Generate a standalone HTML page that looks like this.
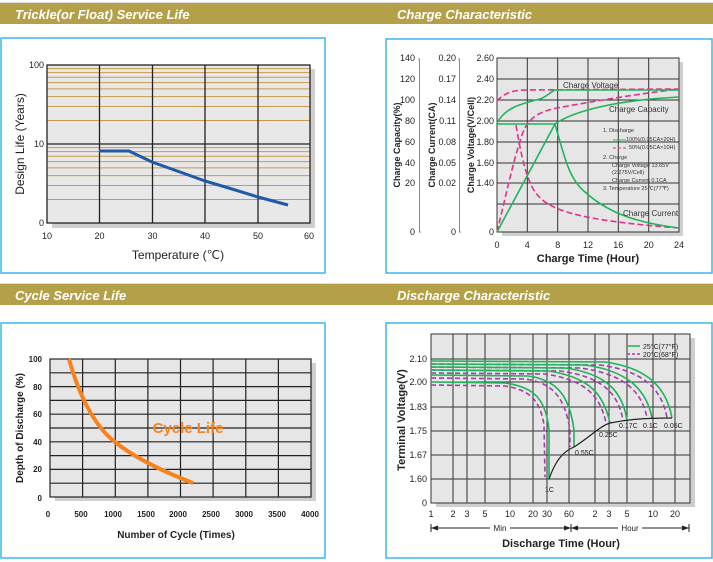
<!DOCTYPE html>
<html><head><meta charset="utf-8"><style>
html,body{margin:0;padding:0;background:#fff;}
svg{display:block;font-family:"Liberation Sans",sans-serif;}
</style></head><body>
<svg width="713" height="562" viewBox="0 0 713 562" xmlns="http://www.w3.org/2000/svg">
<rect x="0" y="2" width="713" height="1.5" fill="#ddd"/>
<rect x="0" y="3" width="713" height="21" fill="#b4a048"/>
<rect x="0" y="283" width="713" height="1.5" fill="#ddd"/>
<rect x="0" y="284" width="713" height="21" fill="#b4a048"/>
<g fill="#fff" font-weight="bold" font-style="italic" font-size="13">
<text x="15" y="19">Trickle(or Float) Service Life</text>
<text x="397" y="19">Charge Characteristic</text>
<text x="15" y="300">Cycle Service Life</text>
<text x="397" y="300">Discharge Characteristic</text>
</g>
<g fill="none" stroke="#3bb8ea" stroke-width="1.5">
<rect x="1" y="38" width="324" height="235"/>
<rect x="386" y="39" width="326" height="234"/>
<rect x="1" y="323" width="324" height="235"/>
<rect x="386" y="323" width="326" height="235"/>
</g>

<!-- Panel 1 -->
<rect x="52" y="69" width="263" height="159" fill="#cfcfcf"/>
<rect x="47" y="65" width="263" height="158" fill="#e8e8e8"/>
<g stroke="#c89a4a" stroke-width="1">
<line x1="47" x2="310" y1="68.6" y2="68.6"/><line x1="47" x2="310" y1="72.6" y2="72.6"/>
<line x1="47" x2="310" y1="77.3" y2="77.3"/><line x1="47" x2="310" y1="82.6" y2="82.6"/>
<line x1="47" x2="310" y1="88.9" y2="88.9"/><line x1="47" x2="310" y1="96.6" y2="96.6"/>
<line x1="47" x2="310" y1="106.5" y2="106.5"/><line x1="47" x2="310" y1="120.5" y2="120.5"/>
<line x1="47" x2="310" y1="147.6" y2="147.6"/><line x1="47" x2="310" y1="151.6" y2="151.6"/>
<line x1="47" x2="310" y1="156.3" y2="156.3"/><line x1="47" x2="310" y1="161.6" y2="161.6"/>
<line x1="47" x2="310" y1="167.9" y2="167.9"/><line x1="47" x2="310" y1="175.6" y2="175.6"/>
<line x1="47" x2="310" y1="185.5" y2="185.5"/><line x1="47" x2="310" y1="199.5" y2="199.5"/>
</g>
<g stroke="#222" stroke-width="1.3">
<line x1="99.5" x2="99.5" y1="65" y2="223"/><line x1="152.5" x2="152.5" y1="65" y2="223"/>
<line x1="205" x2="205" y1="65" y2="223"/><line x1="258" x2="258" y1="65" y2="223"/>
<line x1="47" x2="310" y1="144" y2="144"/>
<rect x="47" y="65" width="263" height="158" fill="none"/>
</g>
<polyline points="99,151 129,151 152,162 180,172 205,181 232,189 258,197 288,205" fill="none" stroke="#1f5aa8" stroke-width="3"/>
<g font-size="9" fill="#222" text-anchor="end">
<text x="44" y="68">100</text><text x="44" y="147">10</text><text x="44" y="226">0</text>
</g>
<g font-size="9" fill="#222" text-anchor="middle">
<text x="47" y="239">10</text><text x="99.5" y="239">20</text><text x="152.5" y="239">30</text>
<text x="205" y="239">40</text><text x="258" y="239">50</text><text x="309" y="239">60</text>
</g>
<text x="178" y="259" font-size="12" text-anchor="middle" fill="#222">Temperature (℃)</text>
<text transform="translate(24,144) rotate(-90)" font-size="12" text-anchor="middle" fill="#222">Design Life (Years)</text>

<!-- Panel 2 -->
<rect x="502" y="62" width="181" height="174" fill="#cfcfcf"/>
<rect x="497" y="58" width="182" height="174" fill="#e6e6e6"/>
<g stroke="#333" stroke-width="1">
<line x1="527.3" x2="527.3" y1="58" y2="232"/><line x1="557.7" x2="557.7" y1="58" y2="232"/>
<line x1="588" x2="588" y1="58" y2="232"/><line x1="618.3" x2="618.3" y1="58" y2="232"/>
<line x1="648.7" x2="648.7" y1="58" y2="232"/>
<line x1="497" x2="679" y1="79" y2="79"/><line x1="497" x2="679" y1="100" y2="100"/>
<line x1="497" x2="679" y1="121" y2="121"/><line x1="497" x2="679" y1="142" y2="142"/>
<line x1="497" x2="679" y1="163" y2="163"/><line x1="497" x2="679" y1="183" y2="183"/>
<line x1="497" x2="679" y1="204" y2="204"/>
<rect x="497" y="58" width="182" height="174" fill="none"/>
</g>
<g stroke="#888" stroke-width="1" fill="none">
<path d="M418,59 h1.5 V232 h1.5"/><path d="M458,59 h1.5 V232 h1.5"/>
</g>
<g font-size="9" fill="#222" text-anchor="end">
<text x="415" y="61">140</text><text x="415" y="82">120</text><text x="415" y="103">100</text>
<text x="415" y="124">80</text><text x="415" y="145">60</text><text x="415" y="166">40</text>
<text x="415" y="186">20</text><text x="415" y="235">0</text>
<text x="456" y="61">0.20</text><text x="456" y="82">0.17</text><text x="456" y="103">0.14</text>
<text x="456" y="124">0.11</text><text x="456" y="145">0.08</text><text x="456" y="166">0.05</text>
<text x="456" y="186">0.02</text><text x="456" y="235">0</text>
<text x="494" y="61">2.60</text><text x="494" y="82">2.40</text><text x="494" y="103">2.20</text>
<text x="494" y="124">2.00</text><text x="494" y="145">1.80</text><text x="494" y="166">1.60</text>
<text x="494" y="186">1.40</text><text x="494" y="235">0</text>
</g>
<g font-size="9" fill="#222" text-anchor="middle">
<text x="497" y="248">0</text><text x="527.3" y="248">4</text><text x="557.7" y="248">8</text>
<text x="588" y="248">12</text><text x="618.3" y="248">16</text><text x="648.7" y="248">20</text><text x="679" y="248">24</text>
</g>
<text x="588" y="262" font-size="11" font-weight="bold" text-anchor="middle" fill="#222">Charge Time (Hour)</text>
<g font-size="9" font-weight="bold" fill="#222" text-anchor="middle">
<text transform="translate(400,145) rotate(-90)">Charge Capacity(%)</text>
<text transform="translate(435,145) rotate(-90)">Charge Current(CA)</text>
<text transform="translate(474,145) rotate(-90)">Charge Voltage(V/Cell)</text>
</g>
<g fill="none" stroke-width="1.6">
<path d="M497,101 C505,92 515,90 527,90 L679,89" stroke="#e0328c" stroke-dasharray="6,3"/>
<path d="M497,232 C505,200 512,165 522,135 C528,118 538,112 557,108 C590,102 630,95 679,89" stroke="#e0328c" stroke-dasharray="6,3"/>
<path d="M516,125 C521,155 526,178 535,192 C548,210 575,220 679,228" stroke="#e0328c" stroke-dasharray="6,3"/>
<path d="M497,123 C505,108 520,104 540,99 C548,96 550,92 555,90 L679,90" stroke="#1fb45a"/>
<path d="M497,124 L555,124" stroke="#1fb45a"/>
<path d="M497,232 L555,124 C575,110 620,100 679,97" stroke="#1fb45a"/>
<path d="M555,124 C565,160 570,180 585,192 C605,210 630,222 679,228" stroke="#1fb45a"/>
</g>
<g font-size="8" fill="#333">
<text x="563" y="88">Charge Voltage</text>
<text x="609" y="112">Charge Capacity</text>
<text x="623" y="216">Charge Current</text>
</g>
<g font-size="5.5" fill="#333">
<text x="603" y="132">1. Discharge</text>
<line x1="613" x2="626" y1="140" y2="140" stroke="#1fb45a" stroke-width="1"/>
<text x="626" y="141">100%(0.05CA×20H)</text>
<line x1="613" x2="626" y1="148" y2="148" stroke="#e0328c" stroke-width="1" stroke-dasharray="3,2"/>
<text x="629" y="149">50%(0.05CA×10H)</text>
<text x="603" y="159">2. Charge</text>
<text x="612" y="167">Charge Voltage 13.65V</text>
<text x="612" y="174">(2.275V/Cell)</text>
<text x="612" y="182">Charge Current 0.1CA</text>
<text x="603" y="190">3. Temperature 25℃(77℉)</text>
</g>

<!-- Panel 3 -->
<rect x="55" y="363" width="261" height="138" fill="#cfcfcf"/>
<rect x="50" y="359" width="261" height="138" fill="#e6e6e6"/>
<g stroke="#222" stroke-width="1.2">
<line x1="82.6" x2="82.6" y1="359" y2="497"/><line x1="115.3" x2="115.3" y1="359" y2="497"/>
<line x1="147.9" x2="147.9" y1="359" y2="497"/><line x1="180.5" x2="180.5" y1="359" y2="497"/>
<line x1="213.1" x2="213.1" y1="359" y2="497"/><line x1="245.8" x2="245.8" y1="359" y2="497"/>
<line x1="278.4" x2="278.4" y1="359" y2="497"/>
<line x1="50" x2="311" y1="372.8" y2="372.8"/><line x1="50" x2="311" y1="386.6" y2="386.6"/>
<line x1="50" x2="311" y1="400.4" y2="400.4"/><line x1="50" x2="311" y1="414.2" y2="414.2"/>
<line x1="50" x2="311" y1="428" y2="428"/><line x1="50" x2="311" y1="441.8" y2="441.8"/>
<line x1="50" x2="311" y1="455.6" y2="455.6"/><line x1="50" x2="311" y1="469.4" y2="469.4"/>
<line x1="50" x2="311" y1="483.2" y2="483.2"/>
<rect x="50" y="359" width="261" height="138" fill="none"/>
</g>
<path d="M69,359 C78,392 93,425 115,442 C135,458 162,471 193,483" fill="none" stroke="#f7821e" stroke-width="4"/>
<text x="188" y="433" font-size="15" font-weight="bold" fill="#f7821e" text-anchor="middle">Cycle Life</text>
<g font-size="8" font-weight="bold" fill="#222" text-anchor="end">
<text x="42" y="362">100</text><text x="42" y="390">80</text><text x="42" y="417">60</text>
<text x="42" y="445">40</text><text x="42" y="472">20</text><text x="42" y="501">0</text>
</g>
<g font-size="8" font-weight="bold" fill="#222" text-anchor="middle">
<text x="48" y="517">0</text><text x="81" y="517">500</text><text x="113" y="517">1000</text>
<text x="146" y="517">1500</text><text x="178" y="517">2000</text><text x="211" y="517">2500</text>
<text x="244" y="517">3000</text><text x="277" y="517">3500</text><text x="310" y="517">4000</text>
</g>
<text x="176" y="538" font-size="10" font-weight="bold" text-anchor="middle" fill="#222">Number of Cycle (Times)</text>
<text transform="translate(23,428) rotate(-90)" font-size="10" font-weight="bold" text-anchor="middle" fill="#222">Depth of Discharge (%)</text>

<!-- Panel 4 -->
<rect x="436" y="338" width="259" height="169" fill="#cfcfcf"/>
<rect x="431" y="334" width="259" height="169" fill="#e6e6e6"/>
<g stroke="#333" stroke-width="1">
<line x1="453" x2="453" y1="334" y2="503"/><line x1="467" x2="467" y1="334" y2="503"/>
<line x1="485" x2="485" y1="334" y2="503"/><line x1="510" x2="510" y1="334" y2="503"/>
<line x1="533" x2="533" y1="334" y2="503"/><line x1="547" x2="547" y1="334" y2="503"/>
<line x1="569" x2="569" y1="334" y2="503"/><line x1="595" x2="595" y1="334" y2="503"/>
<line x1="609" x2="609" y1="334" y2="503"/><line x1="627" x2="627" y1="334" y2="503"/>
<line x1="653" x2="653" y1="334" y2="503"/><line x1="675" x2="675" y1="334" y2="503"/>
<line x1="431" x2="690" y1="359" y2="359"/><line x1="431" x2="690" y1="382" y2="382"/>
<line x1="431" x2="690" y1="407" y2="407"/><line x1="431" x2="690" y1="431" y2="431"/>
<line x1="431" x2="690" y1="455" y2="455"/><line x1="431" x2="690" y1="479" y2="479"/>
<rect x="431" y="334" width="259" height="169" fill="none"/>
</g>
<g fill="none" stroke-width="1.6">
<g stroke="#a83ca8" stroke-dasharray="5,3">
<path d="M431,385 L505,386 C530,390 540,400 544,425 L545,477"/>
<path d="M431,378 L525,379 C555,383 565,400 570,430 L570,447"/>
<path d="M431,373 L545,374 C585,380 600,395 606,423"/>
<path d="M431,370 L560,371 C605,377 618,395 623,420"/>
<path d="M431,367 L580,368 C625,374 642,392 647,418"/>
<path d="M431,364 L600,365 C645,371 662,390 667,418"/>
</g>
<g stroke="#1fb45a">
<path d="M431,382 L505,383 C535,387 546,400 549,430 L549,479"/>
<path d="M431,375 L528,376 C560,380 570,400 574,430 L574,447"/>
<path d="M431,370 L548,371 C590,377 604,395 610,423"/>
<path d="M431,367 L565,368 C610,374 623,395 627,420"/>
<path d="M431,364 L585,365 C630,371 647,392 652,418"/>
<path d="M431,361 L605,362 C650,368 667,390 672,418"/>
</g>
<path d="M549,479 C555,462 562,452 574,447 C590,437 600,426 610,423 C625,420 640,418 672,418" stroke="#222" stroke-width="1.2"/>
</g>
<g font-size="7" fill="#222">
<text x="545" y="492">1C</text><text x="575" y="455">0.55C</text><text x="599" y="437">0.25C</text>
<text x="619" y="428">0.17C</text><text x="643" y="428">0.1C</text><text x="664" y="428">0.05C</text>
</g>
<line x1="627" x2="640" y1="346" y2="346" stroke="#1fb45a" stroke-width="1.5"/>
<text x="643" y="349" font-size="7" fill="#222">25°C(77°F)</text>
<line x1="627" x2="640" y1="354" y2="354" stroke="#a83ca8" stroke-width="1.5" stroke-dasharray="3,2"/>
<text x="643" y="357" font-size="7" fill="#222">20°C(68°F)</text>
<g font-size="9" fill="#222" text-anchor="end">
<text x="427" y="362">2.10</text><text x="427" y="385">2.00</text><text x="427" y="410">1.83</text>
<text x="427" y="434">1.75</text><text x="427" y="458">1.67</text><text x="427" y="482">1.60</text>
<text x="427" y="506">0</text>
</g>
<g font-size="9" fill="#222" text-anchor="middle">
<text x="431" y="517">1</text><text x="453" y="517">2</text><text x="467" y="517">3</text>
<text x="485" y="517">5</text><text x="510" y="517">10</text><text x="533" y="517">20</text>
<text x="547" y="517">30</text><text x="569" y="517">60</text><text x="595" y="517">2</text>
<text x="609" y="517">3</text><text x="627" y="517">5</text><text x="653" y="517">10</text><text x="675" y="517">20</text>
</g>
<g stroke="#222" stroke-width="1">
<line x1="431" x2="490" y1="528" y2="528"/><line x1="510" x2="571" y1="528" y2="528"/>
<line x1="571" x2="618" y1="528" y2="528"/><line x1="642" x2="689" y1="528" y2="528"/>
<line x1="431" x2="431" y1="524" y2="532"/><line x1="571" x2="571" y1="524" y2="532"/><line x1="689" x2="689" y1="524" y2="532"/>
</g>
<g fill="#222">
<polygon points="431,528 438,525.5 438,530.5"/><polygon points="571,528 564,525.5 564,530.5"/>
<polygon points="571,528 578,525.5 578,530.5"/><polygon points="689,528 682,525.5 682,530.5"/>
</g>
<text x="500" y="531" font-size="8" text-anchor="middle" fill="#222">Min</text>
<text x="630" y="531" font-size="8" text-anchor="middle" fill="#222">Hour</text>
<text x="561" y="547" font-size="11" font-weight="bold" text-anchor="middle" fill="#222">Discharge Time (Hour)</text>
<text transform="translate(405,420) rotate(-90)" font-size="11" font-weight="bold" text-anchor="middle" fill="#222">Terminal Voltage(V)</text>
</svg>
</body></html>
